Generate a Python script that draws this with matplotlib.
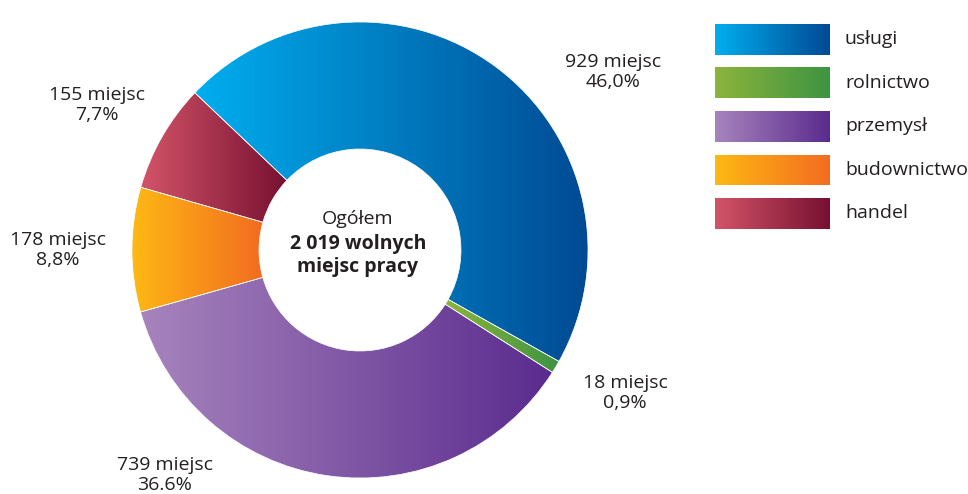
import numpy as np
import matplotlib.pyplot as plt
from matplotlib.patches import Wedge, Rectangle
from matplotlib.colors import LinearSegmentedColormap

# data
categories = ["usługi", "rolnictwo", "przemysł", "budownictwo", "handel"]
counts = [929, 18, 739, 178, 155]
shares = ["46,0%", "0,9%", "36.6%", "8,8%", "7,7%"]
left_colors = ["#00aeef", "#8cb43c", "#a784bd", "#fdb913", "#d35468"]
right_colors = ["#004a93", "#3e9442", "#5a2b8e", "#f36c21", "#761031"]

# label positions (pixels)
label_pos = [(613, 72), (625, 393), (165, 475), (58, 250), (97, 105)]

plt.rcParams['font.family'] = ['Open Sans', 'DejaVu Sans']

fig = plt.figure(figsize=(9.68, 4.94), dpi=100)
ax = fig.add_axes([0, 0, 1, 1])
ax.set_xlim(0, 968)
ax.set_ylim(494, 0)
ax.axis('off')

cx, cy = 360, 250
r_out, r_in = 228, 101
start = 136.4

grad = np.linspace(0, 1, 256).reshape(1, -1)


def gradient_fill(patch, c1, c2, x0, x1, y0, y1):
    cmap = LinearSegmentedColormap.from_list("g", [c1, c2])
    im = ax.imshow(grad, cmap=cmap, extent=(x0, x1, y1, y0), aspect='auto',
                   interpolation='bilinear', zorder=1)
    im.set_clip_path(patch)


total = sum(counts)
ang = start
for i, v in enumerate(counts):
    sweep = 360 * v / total
    # y axis is inverted, so angles go the other way
    t1, t2 = -ang, -ang + sweep
    w = Wedge((cx, cy), r_out, t1, t2, width=r_out - r_in, facecolor='none',
              edgecolor='none')
    ax.add_patch(w)
    # bounding box of the wedge
    th = np.radians(np.linspace(t1, t2, 200))
    xs = np.concatenate([cx + r_out * np.cos(th), cx + r_in * np.cos(th)])
    ys = np.concatenate([cy + r_out * np.sin(th), cy + r_in * np.sin(th)])
    gradient_fill(w, left_colors[i], right_colors[i], xs.min(), xs.max(), ys.min(), ys.max())
    edge = Wedge((cx, cy), r_out, t1, t2, width=r_out - r_in, facecolor='none',
                 edgecolor='white', linewidth=0.5, zorder=2)
    ax.add_patch(edge)
    ang -= sweep

    lx, ly = label_pos[i]
    ax.text(lx, ly, f"{v} miejsc\n{shares[i]}", ha='center', va='center',
            fontsize=14, color='#231f20', linespacing=1.1)

# centre text
ax.text(cx - 2, 219, "Ogółem", ha='center', va='center', fontsize=14, color='#231f20')
ax.text(cx - 2, 244, "2 019 wolnych", ha='center', va='center', fontsize=14,
        fontweight='bold', color='#231f20')
ax.text(cx - 2, 267, "miejsc pracy", ha='center', va='center', fontsize=14,
        fontweight='bold', color='#231f20')

# legend
for i, cat in enumerate(categories):
    y0 = 24 + i * 43.5
    box = Rectangle((715, y0), 115, 31, facecolor='none', edgecolor='none')
    ax.add_patch(box)
    gradient_fill(box, left_colors[i], right_colors[i], 715, 830, y0, y0 + 31)
    ax.text(845, y0 + 15, cat, ha='left', va='center', fontsize=14, color='#231f20')

fig.savefig("out.png", dpi=100)
